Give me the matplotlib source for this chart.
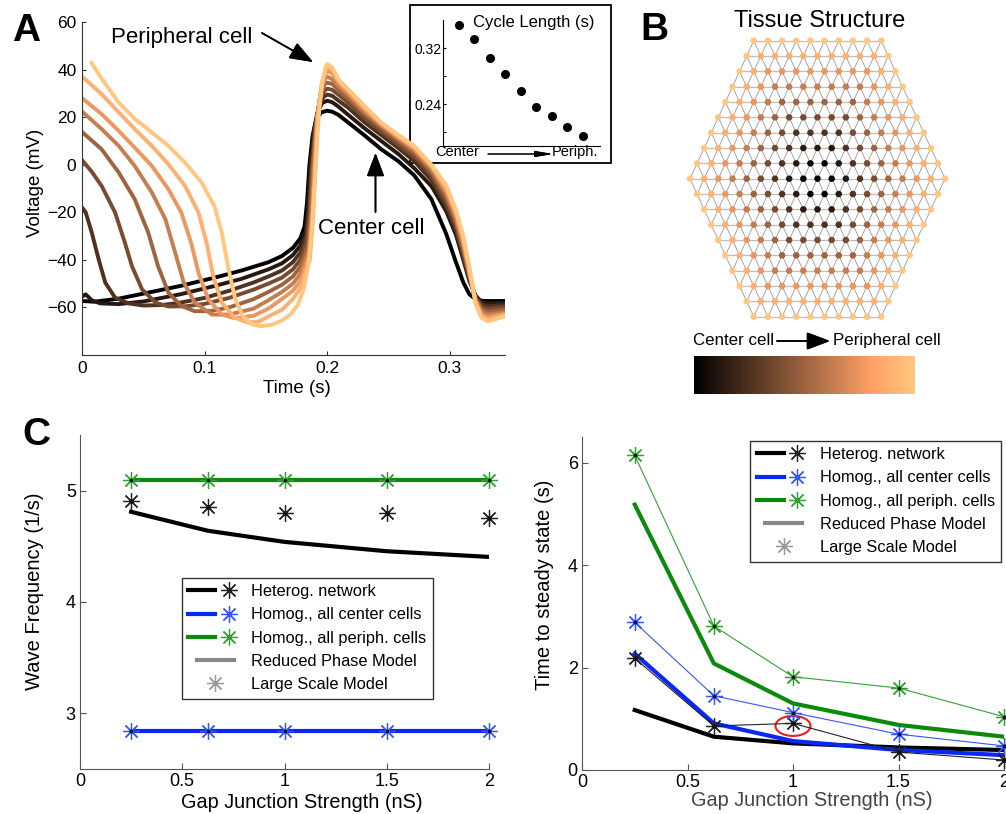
import matplotlib.pyplot as plt
from matplotlib.lines import Line2D
from matplotlib.legend_handler import HandlerTuple, HandlerLine2D
from matplotlib.patches import Ellipse, Rectangle
import numpy as np

plt.rcParams['font.family'] = ['Liberation Sans', 'DejaVu Sans']

W, H = 1006, 814

# ---------------- panel A : membrane voltage, centre cell (0) -> peripheral cell (8)
early_t = [
    [0, 0.01, 0.03, 0.05, 0.08, 0.108, 0.13, 0.152, 0.163, 0.172, 0.178, 0.1815, 0.1835, 0.1855, 0.188, 0.191, 0.195],
    [0, 0.003, 0.008, 0.015, 0.03, 0.05, 0.08, 0.108, 0.13, 0.152, 0.163, 0.172, 0.178, 0.1825, 0.1845, 0.1865, 0.189, 0.192, 0.196],
    [0, 0.003, 0.008, 0.0136, 0.019, 0.027, 0.038, 0.05, 0.065, 0.08, 0.1, 0.12, 0.14, 0.152, 0.163, 0.172, 0.178, 0.183, 0.1852, 0.1872, 0.19, 0.193, 0.197],
    [0, 0.008, 0.016, 0.027, 0.035, 0.0407, 0.049, 0.06, 0.0705, 0.085, 0.1, 0.12, 0.14, 0.152, 0.163, 0.172, 0.178, 0.1835, 0.1858, 0.1879, 0.1905, 0.1935, 0.1975],
    [0, 0.016, 0.03, 0.043, 0.054, 0.062, 0.0705, 0.081, 0.092, 0.105, 0.12, 0.14, 0.152, 0.163, 0.172, 0.178, 0.1842, 0.1865, 0.1886, 0.191, 0.194, 0.198],
    [0, 0.016, 0.03, 0.043, 0.057, 0.068, 0.076, 0.083, 0.092, 0.106, 0.12, 0.14, 0.152, 0.163, 0.172, 0.178, 0.1848, 0.1872, 0.1893, 0.1915, 0.1945, 0.1985],
    [0, 0.016, 0.03, 0.043, 0.057, 0.0705, 0.081, 0.089, 0.095, 0.103, 0.114, 0.1246, 0.14, 0.152, 0.163, 0.172, 0.178, 0.1854, 0.1878, 0.19, 0.192, 0.195, 0.199],
    [0, 0.016, 0.03, 0.043, 0.057, 0.0705, 0.084, 0.095, 0.1016, 0.107, 0.114, 0.1246, 0.1355, 0.145, 0.155, 0.163, 0.172, 0.178, 0.1858, 0.1883, 0.1905, 0.1925, 0.1955, 0.199],
    [0.0076, 0.0163, 0.0298, 0.0433, 0.057, 0.0705, 0.084, 0.0976, 0.108, 0.114, 0.119, 0.125, 0.131, 0.138, 0.146, 0.155, 0.163, 0.17, 0.176, 0.181, 0.1845, 0.187, 0.189, 0.191, 0.193, 0.196, 0.199],
]
early_v = [
    [-57.3, -57.6, -56.3, -54.2, -51, -47.5, -44.5, -41, -38.4, -35, -31, -26, -16, 0, 12, 19, 22],
    [-55.5, -54.5, -57, -58.3, -58.6, -57.5, -54.5, -51, -48, -44, -41.5, -38, -34, -28, -17, 0, 14, 22, 26],
    [-18, -20, -28.6, -39.8, -49.6, -55.9, -58.3, -59.2, -59, -58, -56, -53, -49.5, -47, -44.5, -41, -37, -30, -19, 0, 15, 24, 28.5],
    [2, -3, -8.9, -20.1, -32.8, -42.6, -52.4, -58, -59.6, -59.5, -58.5, -56, -52.5, -50, -47.5, -44, -40, -32, -20, 0, 16, 26, 31],
    [13.8, 6.5, -3.3, -14.5, -28.5, -42.6, -53.8, -59.4, -61.6, -61.5, -60, -56.5, -53.5, -50.5, -47, -43, -34, -21, 0, 17, 28, 34],
    [22.4, 15, 7.9, -0.5, -11.7, -22.9, -37, -49.6, -58, -63, -63, -60.5, -57, -53.5, -50, -46, -36, -22, 0, 18, 30, 36.5],
    [28, 21.3, 14.2, 7.2, -0.5, -10.3, -20.1, -32.8, -45.4, -56.6, -63, -64.5, -63.5, -60.5, -56.5, -53, -49, -38, -23, 0, 20, 32, 39],
    [37.1, 29.7, 22, 15, 7.9, 0.2, -8.9, -20.1, -32.8, -46.8, -58, -64.3, -66.4, -65.8, -63, -61, -56.5, -52, -40, -24, 0, 21, 34, 40.5],
    [43, 36, 26.2, 19.2, 13.6, 7.9, 0.9, -7.5, -17.4, -28.5, -42.6, -56.6, -63.5, -67, -67.9, -67.3, -65.5, -63, -59, -52, -42.6, -30, -15, 3, 20, 35, 41.5],
]
late_t = [0.200, 0.204, 0.209, 0.217, 0.230, 0.244, 0.258, 0.271, 0.285, 0.297,
          0.305, 0.311, 0.316, 0.321, 0.326, 0.331, 0.338, 0.345]
late_v = [
    [22.7, 22.3, 21, 17.8, 12.5, 6.5, 1.5, -4.5, -14.5, -29, -41, -49.5, -54.5, -56.5, -57.2, -57.3, -57.3, -57.3],
    [26.9, 26.3, 24.5, 21, 15.5, 10, 4.5, -1.5, -9, -19.5, -29.5, -40, -49, -55, -57.8, -58.3, -58.2, -58],
    [29.5, 29, 27, 24, 18, 12.5, 7, 1.5, -6.5, -17.5, -27.5, -38.5, -48, -55.5, -58.8, -59.5, -59.2, -59],
    [32, 31.5, 29.5, 26, 20, 14, 8.5, 3.5, -4.5, -15.5, -25.5, -37, -47.5, -56, -59.8, -60.5, -60.3, -60],
    [34.5, 34, 31.5, 28, 21.5, 15.5, 10, 5, -3, -13.5, -24, -35.5, -46.5, -56.5, -60.8, -61.8, -61.3, -61],
    [37, 36, 33, 29.5, 22.5, 16.5, 11, 6, -1.8, -12, -22.5, -34, -46, -57, -61.8, -63, -62.5, -62],
    [39.5, 38.5, 34.5, 30.5, 23.5, 17, 11.6, 6.8, -0.9, -10.8, -21, -32.5, -45, -57.5, -63, -64.2, -63.3, -62.7],
    [41.5, 40, 35.5, 31.3, 24.3, 17.5, 12, 7.4, -0.4, -9.6, -19.8, -31, -44, -58, -64, -65.2, -64, -63.3],
    [42.3, 41, 36, 31.8, 25, 17.8, 12.5, 7.9, 0, -8.5, -19, -30, -43, -58.5, -64.5, -65.8, -64.8, -63.7],
]
cycle_len = [0.353, 0.333, 0.306, 0.283, 0.259, 0.236, 0.223, 0.207, 0.195]

# ---------------- panel B : hexagonal tissue
hex_radius = 9

# ---------------- panel C
gap = [0.25, 0.625, 1, 1.5, 2]
gap_labels = ['0', '0.5', '1', '1.5', '2']
freq_het_model = [4.81, 4.64, 4.54, 4.456, 4.405]
freq_het_sim = [4.91, 4.85, 4.80, 4.80, 4.755]
freq_center_model = [2.84, 2.84, 2.84, 2.84, 2.84]
freq_center_sim = [2.84, 2.84, 2.84, 2.84, 2.84]
freq_periph_model = [5.10, 5.10, 5.10, 5.10, 5.10]
freq_periph_sim = [5.10, 5.10, 5.10, 5.10, 5.10]

tss_het_model = [1.17, 0.65, 0.52, 0.44, 0.39]
tss_het_sim = [2.18, 0.86, 0.91, 0.35, 0.195]
tss_center_model = [2.27, 0.91, 0.565, 0.39, 0.29]
tss_center_sim = [2.88, 1.45, 1.12, 0.70, 0.47]
tss_periph_model = [5.18, 2.08, 1.30, 0.88, 0.65]
tss_periph_sim = [6.14, 2.81, 1.82, 1.60, 1.04]

legend_labels = ['Heterog. network', 'Homog., all center cells', 'Homog., all periph. cells',
                 'Reduced Phase Model', 'Large Scale Model']


def box(x0, y0, x1, y1):
    # pixel box (top-left origin) -> figure rect
    return [x0 / W, 1 - y1 / H, (x1 - x0) / W, (y1 - y0) / H]


def fp(x, y):
    return (x, H - y)


def arrow(x0, y0, x1, y1, style, ms, lw=1.2):
    fig.add_artist(plt.annotate('', xy=fp(x1, y1), xytext=fp(x0, y0),
                   xycoords='figure pixels', textcoords='figure pixels',
                   arrowprops=dict(arrowstyle=style, color='k', lw=lw,
                                   mutation_scale=ms, shrinkA=0, shrinkB=0)))


copper = plt.get_cmap('copper')
fig = plt.figure(figsize=(W / 100, H / 100), dpi=100)

# ---------------- A
axA = fig.add_axes(box(82, 22, 505, 355))
axA.set_zorder(2)
axA.patch.set_visible(False)
for k in range(9):
    axA.plot(early_t[k] + late_t, early_v[k] + late_v[k], color=copper(k / 8), lw=2.8,
             solid_joinstyle='round', solid_capstyle='round')
axA.set_xlim(0, 0.345)
axA.set_ylim(-80, 60)
axA.set_xticks([0, 0.1, 0.2, 0.3])
axA.set_xticklabels(['0', '0.1', '0.2', '0.3'])
axA.set_yticks([-60, -40, -20, 0, 20, 40, 60])
for s in ['top', 'right']:
    axA.spines[s].set_visible(False)
for s in ['left', 'bottom']:
    axA.spines[s].set_color('#333')
axA.tick_params(direction='in', length=3, labelsize=12.5, pad=4, color='#333')
fig.text(297 / W, 1 - 388 / H, 'Time (s)', ha='center', va='center', fontsize=13.5)
fig.text(35 / W, 1 - 183 / H, 'Voltage (mV)', ha='center', va='center', rotation=90, fontsize=13.5)

# inset: cycle length
fig.add_artist(Rectangle((410 / W, 1 - 163 / H), 201 / W, 158 / H, transform=fig.transFigure,
                         facecolor='white', edgecolor='k', lw=1.3, zorder=-1))
axIn = fig.add_axes(box(443, 20, 600, 146))
axIn.patch.set_visible(False)
axIn.plot(range(1, len(cycle_len) + 1), cycle_len, 'o', color='k', ms=5.5)
axIn.set_xlim(0, 10.1)
axIn.set_ylim(0.18, 0.36)
axIn.set_xticks([])
axIn.set_yticks([0.20, 0.24, 0.28, 0.32])
axIn.set_yticklabels(['', '0.24', '', '0.32'])
axIn.tick_params(direction='in', length=2.5, labelsize=10, pad=1)
for s in ['top', 'right']:
    axIn.spines[s].set_visible(False)
fig.text(473 / W, 1 - 22 / H, 'Cycle Length (s)', va='center', fontsize=12)
fig.text(435 / W, 1 - 152 / H, 'Center', va='center', fontsize=10.5)
fig.text(552 / W, 1 - 152 / H, 'Periph.', va='center', fontsize=10.5)
arrow(488, 154, 553, 154, '-|>,head_length=0.9,head_width=0.15', 12, lw=0.8)

fig.text(111 / W, 1 - 37 / H, 'Peripheral cell', va='center', fontsize=16)
arrow(262, 33, 313, 62, '-|>,head_length=0.8,head_width=0.3', 18)
fig.text(318 / W, 1 - 229 / H, 'Center cell', va='center', fontsize=16)
arrow(375.5, 212, 375.5, 153, '-|>,head_length=0.8,head_width=0.3', 18)

# ---------------- B
axB = fig.add_axes(box(690, 40.7, 945, 316.7))
axB.axis('off')
axB.set_xlim(0, 2 * hex_radius)
axB.set_ylim(-hex_radius, hex_radius)
R = hex_radius
nodes = {}
for q in range(-R, R + 1):
    for r in range(-R, R + 1):
        if abs(q + r) <= R:
            nodes[(q, r)] = (q + r / 2 + R, r)
for (q, r), (x, y) in nodes.items():
    for dq, dr, col, lw in [(1, 0, '#bdbdbd', 0.9), (0, 1, '#8f8f8f', 0.55), (-1, 1, '#8f8f8f', 0.55)]:
        nb = (q + dq, r + dr)
        if nb in nodes:
            x2, y2 = nodes[nb]
            axB.plot([x, x2], [y, y2], color=col, lw=lw, zorder=1, clip_on=False)
xs = [p[0] for p in nodes.values()]
ys = [p[1] for p in nodes.values()]
ring = [max(abs(q), abs(r), abs(q + r)) for (q, r) in nodes]
cols = [copper(max(d - 1, 0) / 8) for d in ring]
axB.scatter(xs, ys, s=22, c=cols, zorder=2, clip_on=False, linewidths=0)
fig.text(820 / W, 1 - 21 / H, 'Tissue Structure', ha='center', va='center', fontsize=17)

axCb = fig.add_axes(box(694, 356, 915, 394))
axCb.imshow(np.linspace(0, 1, 256)[None, :], cmap='copper', aspect='auto')
axCb.axis('off')
fig.text(693 / W, 1 - 341 / H, 'Center cell', va='center', fontsize=12.2)
fig.text(833 / W, 1 - 341 / H, 'Peripheral cell', va='center', fontsize=12.2)
arrow(777, 341, 830, 341, '-|>,head_length=0.8,head_width=0.3', 18)

# ---------------- C
ast = (8, 2, 0)
blk, blk_m = 'k', '#222222'
blu, blu_m = '#0a28f5', '#3355ff'
grn, grn_m = '#0b8a0b', '#33a033'


def style_c(ax):
    for s in ['top', 'right']:
        ax.spines[s].set_visible(False)
    for s in ['left', 'bottom']:
        ax.spines[s].set_color('#555')
    ax.tick_params(direction='in', length=4, labelsize=13, pad=3, color='#555')
    ax.set_xlim(0, 2)
    ax.set_xticks([0, 0.5, 1, 1.5, 2])
    ax.set_xticklabels(gap_labels)


def handles():
    h = []
    for c, cm in [(blk, blk_m), (blu, blu_m), (grn, grn_m)]:
        h.append((Line2D([], [], color=c, lw=3),
                  Line2D([], [], ls='none', marker=ast, ms=12, mec=cm, mew=0.9)))
    red = Line2D([], [], color='#888888', lw=3)
    lsm = Line2D([], [], ls='none', marker=ast, ms=12, mec='#999999', mew=0.9)
    h += [red, lsm]
    hmap = {tuple: HandlerTuple(ndivide=None, pad=0),
            red: HandlerLine2D(numpoints=2, marker_pad=0.5)}
    return h, hmap


def add_legend(ax, anchor):
    h, hmap = handles()
    leg = ax.legend(h, legend_labels, handler_map=hmap, loc='upper left',
                    bbox_to_anchor=anchor, borderaxespad=0, fontsize=11.8,
                    handlelength=3.3, handletextpad=0.55, borderpad=0.4,
                    labelspacing=0.5, fancybox=False, framealpha=1, edgecolor='#333')
    leg.get_frame().set_linewidth(1.0)


axL = fig.add_axes(box(80, 435, 489, 769))
axL.plot(gap, freq_het_model, color=blk, lw=3)
axL.plot(gap, freq_center_model, color=blu, lw=3)
axL.plot(gap, freq_periph_model, color=grn, lw=3)
for vals, cm in [(freq_het_sim, blk_m), (freq_center_sim, blu_m), (freq_periph_sim, grn_m)]:
    axL.plot(gap, vals, ls='none', marker=ast, ms=12, mec=cm, mew=0.9, clip_on=False)
    axL.plot(gap, vals, ls='none', marker='.', ms=3, color='#111', clip_on=False)
axL.set_ylim(2.5, 5.5)
axL.set_yticks([3, 4, 5])
style_c(axL)
add_legend(axL, (0.249, 0.573))
fig.text(302 / W, 1 - 803 / H, 'Gap Junction Strength (nS)', ha='center', va='center', fontsize=14.3)
fig.text(35 / W, 1 - 591 / H, 'Wave Frequency (1/s)', ha='center', va='center', rotation=90, fontsize=14.5)

axR = fig.add_axes(box(582, 437, 1004, 770))
axR.plot(gap, tss_het_model, color=blk, lw=3)
axR.plot(gap, tss_periph_model, color=grn, lw=3)
axR.plot(gap, tss_center_model, color=blu, lw=3)
for vals, cm in [(tss_het_sim, blk_m), (tss_center_sim, blu_m), (tss_periph_sim, grn_m)]:
    axR.plot(gap, vals, color=cm, lw=0.8, marker=ast, ms=12, mec=cm, mew=0.9, clip_on=False)
    axR.plot(gap, vals, ls='none', marker='.', ms=3, color='#111', clip_on=False)
axR.add_patch(Ellipse((gap[2], tss_het_sim[2] - 0.05), 0.166, 0.39, fill=False, ec='#e8201c', lw=1.5))
axR.set_ylim(0, 6.5)
axR.set_yticks([0, 2, 4, 6])
style_c(axR)
add_legend(axR, (0.398, 0.989))
fig.text(812 / W, 1 - 801 / H, 'Gap Junction Strength (nS)', ha='center', va='center', fontsize=14.3, color='#444')
fig.text(544 / W, 1 - 585 / H, 'Time to steady state (s)', ha='center', va='center', rotation=90, fontsize=14.5)

# panel letters
for letter, x, y in [('A', 12, 41), ('B', 640, 40), ('C', 22, 445)]:
    fig.text(x / W, 1 - y / H, letter, fontsize=28, fontweight='bold', va='baseline')

fig.savefig('out.png', dpi=100)
